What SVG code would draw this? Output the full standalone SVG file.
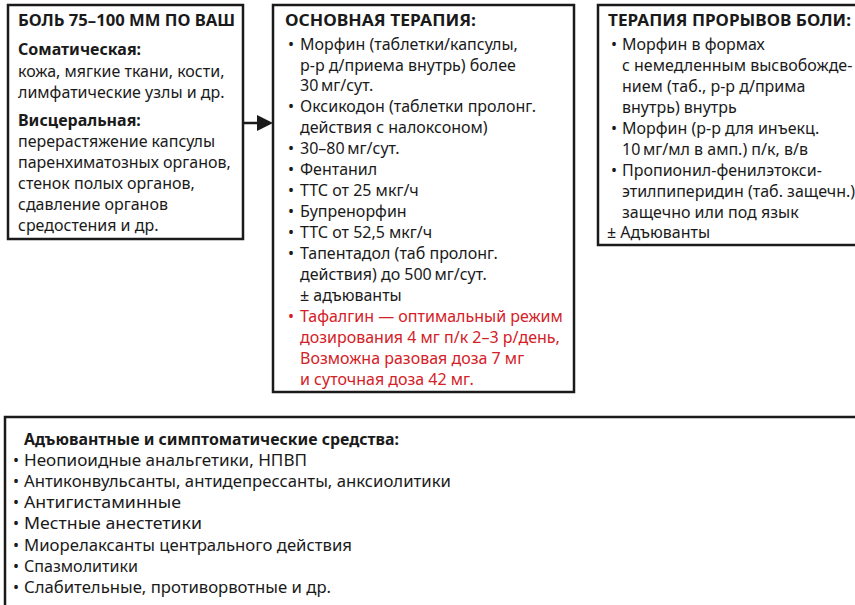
<svg xmlns="http://www.w3.org/2000/svg" width="855" height="605" viewBox="0 0 855 605">
<style>
.box{fill:#fff;stroke:#1a1a1a;stroke-width:2.5}
text{font-family:"Noto Sans","Open Sans","Liberation Sans",sans-serif;font-size:16px;fill:#1a1a1a}
.b{font-weight:bold}
.t{font-weight:bold;font-size:16.5px}
.red{fill:#d42027}
.cond{font-size:16px}
</style>
<rect width="855" height="605" fill="#fff"/>
<g id="connectors">
<line x1="243" y1="123" x2="259" y2="123" stroke="#1a1a1a" stroke-width="2.5"/>
<polygon points="257,115 273,123 257,131" fill="#1a1a1a"/>
</g>
<g id="pain">
<rect class="box" x="8" y="5" width="235" height="234"/>
<text class="t" x="18" y="26" textLength="217" lengthAdjust="spacingAndGlyphs">БОЛЬ 75–100 ММ ПО ВАШ</text>
<text class="b" x="18" y="55">Соматическая:</text>
<text x="18" y="77">кожа, мягкие ткани, кости,</text>
<text x="18" y="98">лимфатические узлы и др.</text>
<text class="b" x="18" y="126">Висцеральная:</text>
<text x="18" y="147">перерастяжение капсулы</text>
<text x="18" y="168">паренхиматозных органов,</text>
<text x="18" y="189">стенок полых органов,</text>
<text x="18" y="210">сдавление органов</text>
<text x="18" y="231">средостения и др.</text>
</g>
<g id="main-therapy">
<rect class="box" x="273" y="5" width="301" height="387"/>
<text class="t" x="285" y="26" textLength="191" lengthAdjust="spacingAndGlyphs">ОСНОВНАЯ ТЕРАПИЯ:</text>
<text x="288" y="50">•</text><text x="300" y="50">Морфин (таблетки/капсулы,</text>
<text x="300" y="71">р-р д/приема внутрь) более</text>
<text x="300" y="91">30&#8201;мг/сут.</text>
<text x="288" y="112">•</text><text x="300" y="112">Оксикодон (таблетки пролонг.</text>
<text x="300" y="133">действия с налоксоном)</text>
<text x="288" y="154">•</text><text x="300" y="154">30–80&#8201;мг/сут.</text>
<text x="288" y="175">•</text><text x="300" y="175">Фентанил</text>
<text x="288" y="196">•</text><text x="300" y="196">ТТС от 25 мкг/ч</text>
<text x="288" y="217">•</text><text x="300" y="217">Бупренорфин</text>
<text x="288" y="238">•</text><text x="300" y="238">ТТС от 52,5 мкг/ч</text>
<text x="288" y="259">•</text><text x="300" y="259">Тапентадол (таб пролонг.</text>
<text x="300" y="280">действия) до 500&#8201;мг/сут.</text>
<text x="300" y="301">± адъюванты</text>
<text class="red" x="288" y="322">•</text><text class="red" x="300" y="322">Тафалгин — оптимальный режим</text>
<text class="red" x="300" y="343">дозирования 4 мг п/к 2–3 р/день,</text>
<text class="red" x="300" y="364">Возможна разовая доза 7 мг</text>
<text class="red" x="300" y="385">и суточная доза 42 мг.</text>
</g>
<g id="breakthrough">
<rect class="box" x="598" y="5" width="270" height="240"/>
<text class="t" x="608" y="26" textLength="243" lengthAdjust="spacingAndGlyphs">ТЕРАПИЯ ПРОРЫВОВ БОЛИ:</text>
<text x="611" y="50">•</text><text x="622" y="50">Морфин в формах</text>
<text x="622" y="71">с немедленным высвобожде-</text>
<text x="622" y="92">нием (таб., р-р д/прима</text>
<text x="622" y="113">внутрь) внутрь</text>
<text x="611" y="134">•</text><text x="622" y="134">Морфин (р-р для инъекц.</text>
<text x="622" y="155">10&#8201;мг/мл в амп.) п/к, в/в</text>
<text x="611" y="176">•</text><text x="622" y="176">Пропионил-фенилэтокси-</text>
<text x="622" y="197">этилпиперидин (таб. защечн.)</text>
<text x="622" y="218">защечно или под язык</text>
<text x="607" y="238">± Адъюванты</text>
</g>
<g id="adjuvants">
<rect class="box" x="5" y="417" width="865" height="200"/>
<text class="b cond" x="24" y="445" textLength="375" lengthAdjust="spacingAndGlyphs">Адъювантные и симптоматические средства:</text>
<text x="13" y="466">•</text><text class="cond" x="24" y="466" textLength="283" lengthAdjust="spacingAndGlyphs">Неопиоидные анальгетики, НПВП</text>
<text x="13" y="487">•</text><text class="cond" x="24" y="487" textLength="427" lengthAdjust="spacingAndGlyphs">Антиконвульсанты, антидепрессанты, анксиолитики</text>
<text x="13" y="508">•</text><text class="cond" x="24" y="508" textLength="157" lengthAdjust="spacingAndGlyphs">Антигистаминные</text>
<text x="13" y="529">•</text><text class="cond" x="24" y="529" textLength="178" lengthAdjust="spacingAndGlyphs">Местные анестетики</text>
<text x="13" y="551">•</text><text class="cond" x="24" y="551" textLength="328" lengthAdjust="spacingAndGlyphs">Миорелаксанты центрального действия</text>
<text x="13" y="572">•</text><text class="cond" x="24" y="572" textLength="114" lengthAdjust="spacingAndGlyphs">Спазмолитики</text>
<text x="13" y="593">•</text><text class="cond" x="24" y="593" textLength="307" lengthAdjust="spacingAndGlyphs">Слабительные, противорвотные и др.</text>
</g>
</svg>
